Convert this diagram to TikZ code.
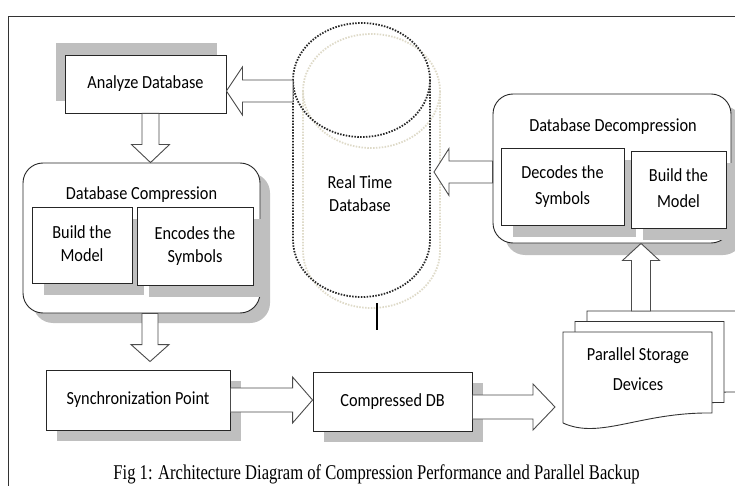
\documentclass[tikz,border=0pt]{standalone}
\usepackage{fontspec}
\usepackage{graphicx}
\newfontfamily\carlito{Carlito}
\newfontfamily\capfont{Liberation Serif}
\usetikzlibrary{calc,shadows}
\definecolor{beige}{RGB}{222,218,200}
\newcommand\sx[1]{\scalebox{0.88}[1]{\begin{tabular}{@{}c@{}}#1\end{tabular}}}
\newcommand{\barr}[5]{%
  \draw[barrow] let \p1=(#1), \p2=(#2),
     \n1={atan2(\y2-\y1,\x2-\x1)},
     \n2={veclen(\x2-\x1,\y2-\y1)-#5}
   in ($(\p1)+(\n1+90:#3pt)$) -- ($(\p1)+(\n1:\n2)+(\n1+90:#3pt)$)
   -- ($(\p1)+(\n1:\n2)+(\n1+90:#4pt)$) -- (\p2)
   -- ($(\p1)+(\n1:\n2)+(\n1-90:#4pt)$) -- ($(\p1)+(\n1:\n2)+(\n1-90:#3pt)$)
   -- ($(\p1)+(\n1-90:#3pt)$) -- cycle;}
\begin{document}
\begin{tikzpicture}[x=1pt,y=-1pt,
  txt/.style={inner sep=0pt, font=\carlito\fontsize{18.5}{23}\selectfont},
  box/.style={txt, draw=black!85, fill=white, line width=0.9pt},
  rbox/.style={box, rounded corners=20pt},
  shd/.style={drop shadow={shadow xshift=#1pt, shadow yshift=-#1pt, fill=black!25, opacity=1}},
  shd/.default=11,
  barrow/.style={draw=black!70, fill=white, line width=0.9pt, line join=miter},
  cylline/.style={draw=black!85, line width=1.8pt, dash pattern=on 1.5pt off 1.4pt},
  cylshade/.style={draw=beige, line width=1.8pt, dash pattern=on 1.5pt off 1.4pt},
  sheet/.style={draw=black!80, fill=white, line width=0.9pt},
]
\useasboundingbox (0,0) rectangle (735,486);
% frame
\draw[black!80, line width=0.8pt] (8,486) -- (8,16) -- (735,16);

% cylinder (Real Time Database)
\begin{scope}[shift={(10,11)}]
\draw[cylshade] (361.5,80) ellipse [x radius=68.5, y radius=57];
\draw[cylshade] (293,80) -- (293,240) arc[start angle=180, end angle=0, x radius=68.5, y radius=57] -- (430,80);
\end{scope}
\draw[cylline] (361.5,80) ellipse [x radius=68.5, y radius=57];
\draw[cylline] (293,80) -- (293,240) arc[start angle=180, end angle=0, x radius=68.5, y radius=57] -- (430,80);
\node[txt] (rtdb) at (360,195.5) {\sx{Real Time\\Database}};
\coordinate (cylL) at (293,91);
\coordinate (cylR) at (434,172);
\coordinate (cylB1) at (377,303);
\coordinate (cylB2) at (377,330);
\draw[black, line width=1.4pt] (cylB1) -- (cylB2);

% Analyze Database
\node[box, minimum width=161pt, minimum height=58pt,
  drop shadow={shadow xshift=-9pt, shadow yshift=12pt, fill=black!25, opacity=1}]
  (an) at (145.5,84) {\sx{Analyze Database}};

% Database Compression
\node[rbox, minimum width=237pt, minimum height=150pt, shd=10] (comp) at (141.5,238) {};
\node[txt] (comptitle) at (141.5,195.4) {\sx{Database Compression}};
\node[box, minimum width=100pt, minimum height=76pt, shd=12] (cb1) at (82,245) {\sx{Build the\\Model}};
\node[box, minimum width=116pt, minimum height=78pt, shd=12] (cb2) at (195,246) {\sx{Encodes the\\Symbols}};

% Database Decompression
\node[rbox, minimum width=238pt, minimum height=149pt, shd=12] (dec) at (612,168.5) {};
\node[txt] (dectitle) at (613,127.4) {\sx{Database Decompression}};
\node[box, minimum width=123pt, minimum height=77pt, shd=12,
  font=\carlito\fontsize{18.5}{25}\selectfont] (db1) at (562.5,186.5) {\sx{Decodes the\\Symbols}};
\node[box, minimum width=95pt, minimum height=77pt, shd=12,
  font=\carlito\fontsize{18.5}{26}\selectfont] (db2) at (678.5,189.5) {\sx{Build the\\Model}};

% Synchronization Point, Compressed DB
\node[box, minimum width=184pt, minimum height=60pt, shd=11] (sync) at (138,400) {\sx{Synchronization Point}};
\node[box, minimum width=159pt, minimum height=59pt, shd=11] (cdb) at (392.5,401.5) {\sx{Compressed DB}};

% Parallel storage devices (multi-document)
\foreach \s/\t in {24/-21, 12/-10.5, 0/0}{
  \begin{scope}[shift={(\s,\t)}]
  \draw[sheet] (563,423) -- (563,332) -- (712,332) -- (712,413)
     .. controls (640,412) and (600,440) .. (563,423);
  \end{scope}
}
\node[txt, font=\carlito\fontsize{18.5}{30}\selectfont] (ps) at (638,369) {\sx{Parallel Storage\\Devices}};
\coordinate (psW) at (555,407);
\coordinate (psN) at (641,311);

% block arrows
\barr{cylL}{an.east |- cylL}{11}{24}{16}
\barr{[xshift=5pt]an.south}{[xshift=9pt]comp.north}{8.5}{19}{18}
\barr{[xshift=8.5pt]comp.south}{[xshift=12pt,yshift=8pt]sync.north}{8}{19}{17}
\barr{sync.east}{cdb.west |- sync.east}{12}{23}{20}
\barr{[yshift=-5.5pt]cdb.east}{psW}{12}{23}{22}
\barr{psN}{dec.south -| psN}{9.5}{18.5}{17}
\barr{dec.west |- cylR}{cylR}{11}{23.5}{15}

% caption
\node[anchor=base, inner sep=0pt, font=\capfont\fontsize{21}{24}\selectfont] (cap) at (376.5,479)
  {\scalebox{0.79}[1]{Fig 1: Architecture Diagram of Compression Performance and Parallel Backup}};
\end{tikzpicture}
\end{document}
